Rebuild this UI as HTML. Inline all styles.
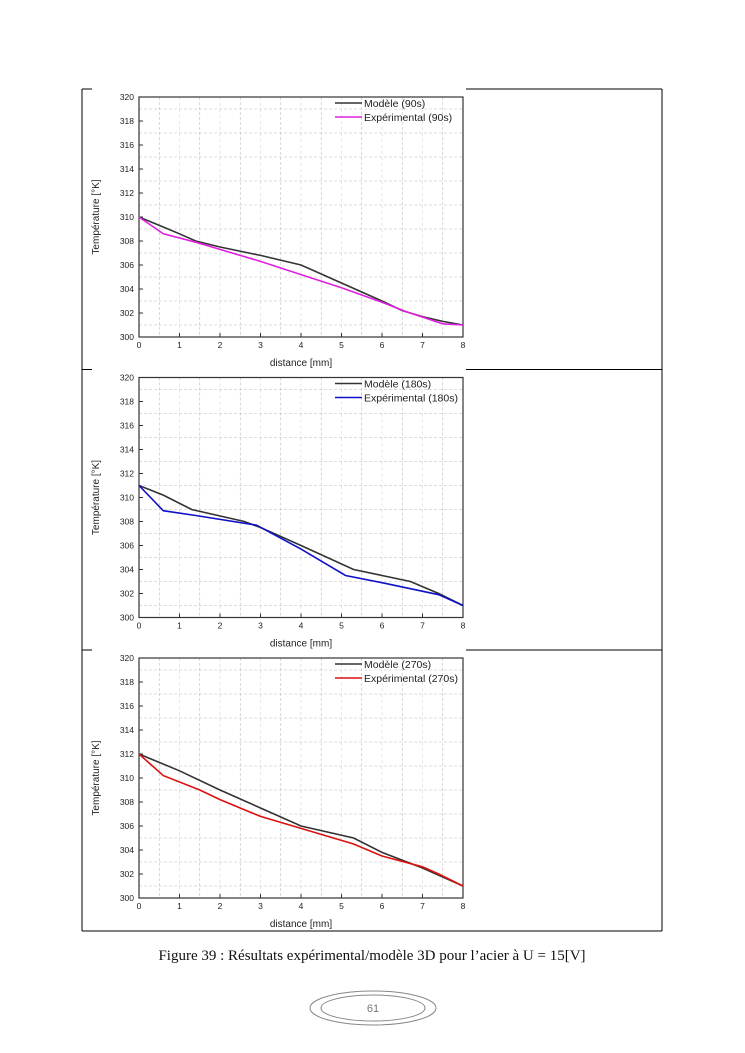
<!DOCTYPE html>
<html><head><meta charset="utf-8"><style>
body{margin:0;background:#fff;}
svg{display:block;font-family:"Liberation Sans",Arial,sans-serif;}
</style></head><body>
<svg id="s" width="745" height="1053" xmlns="http://www.w3.org/2000/svg">
<rect width="745" height="1053" fill="#fff"/>
<line x1="82" y1="89" x2="82" y2="931" stroke="#000" stroke-width="1"/>
<line x1="662" y1="89" x2="662" y2="931" stroke="#000" stroke-width="1"/>
<line x1="82" y1="931" x2="662" y2="931" stroke="#000" stroke-width="1"/>
<text x="372" y="960" font-family="Liberation Serif,serif" font-size="15" text-anchor="middle" fill="#111">Figure 39 : Résultats expérimental/modèle 3D pour l’acier à U = 15[V]</text>
<ellipse cx="373" cy="1008" rx="63" ry="17" fill="none" stroke="#888" stroke-width="1"/>
<ellipse cx="373" cy="1008" rx="52" ry="13" fill="none" stroke="#888" stroke-width="1"/>
<text x="373" y="1012" font-size="11" text-anchor="middle" fill="#777">61</text>
<g id="g"></g>
</svg>
<script>
var charts=[
 {off:0,col:"#e020e0",lab:"90s",
  m:[[0,310],[0.5,309.3],[1,308.6],[1.4,308],[2,307.5],[3,306.8],[4,306],[5,304.5],[6,303],[6.5,302.2],[7,301.7],[7.5,301.3],[8,301]],
  e:[[0,310],[0.6,308.6],[1.4,307.9],[2,307.3],[3,306.3],[4,305.2],[5,304.1],[6,302.9],[6.6,302.1],[7.5,301.1],[8,301]]},
 {off:280.5,col:"#1010c8",lab:"180s",
  m:[[0,311],[0.6,310.2],[1.3,309],[2.6,308],[3,307.5],[4,306],[5.3,304],[6,303.5],[6.7,303],[7.4,302],[8,301]],
  e:[[0,311],[0.6,308.9],[1.4,308.5],[2.9,307.7],[4,305.7],[5.1,303.5],[6,302.9],[7.4,301.9],[8,301]]},
 {off:561,col:"#dd1010",lab:"270s",
  m:[[0,312],[1,310.6],[2,309],[3,307.5],[4,306],[5.3,305],[6,303.8],[7,302.5],[8,301]],
  e:[[0,312],[0.6,310.2],[1.5,309],[2,308.2],[3,306.8],[4,305.8],[5.3,304.5],[6,303.5],[7,302.6],[7.4,302],[8,301]]}
];
var h="";
charts.forEach(function(c){
 var o=c.off,L=139,R=463,T=97+o,B=337+o;
 function X(v){return L+v*(R-L)/8} function Y(v){return B-(v-300)*12}
 h+='<line x1="82" y1="'+(89+o)+'" x2="92" y2="'+(89+o)+'" stroke="#000"/>';
 h+='<line x1="466" y1="'+(89+o)+'" x2="662" y2="'+(89+o)+'" stroke="#000"/>';
 for(var i=1;i<16;i+=2){var x=X(i/2);h+='<line x1="'+x+'" y1="'+T+'" x2="'+x+'" y2="'+B+'" stroke="#bbb" stroke-width="0.6" stroke-dasharray="3,2"/>';}
 for(var i=1;i<8;i++){var x=X(i);h+='<line x1="'+x+'" y1="'+T+'" x2="'+x+'" y2="'+B+'" stroke="#ccc" stroke-width="0.5" stroke-dasharray="3,3"/>';}
 for(var j=1;j<20;j+=2){var y=Y(300+j);h+='<line x1="'+L+'" y1="'+y+'" x2="'+R+'" y2="'+y+'" stroke="#bbb" stroke-width="0.6" stroke-dasharray="3,2"/>';}
 h+='<rect x="'+L+'" y="'+T+'" width="'+(R-L)+'" height="'+(B-T)+'" fill="none" stroke="#333" stroke-width="1.2"/>';
 for(var k=0;k<=10;k++){var v=300+2*k,y=Y(v);h+='<text x="134" y="'+(y+3)+'" font-size="8.5" text-anchor="end" fill="#222">'+v+'</text>';h+='<line x1="'+L+'" y1="'+y+'" x2="'+(L+4)+'" y2="'+y+'" stroke="#333"/>';}
 for(var k=0;k<=8;k++){var x=X(k);h+='<text x="'+x+'" y="'+(B+11)+'" font-size="8.5" text-anchor="middle" fill="#222">'+k+'</text>';h+='<line x1="'+x+'" y1="'+B+'" x2="'+x+'" y2="'+(B-4)+'" stroke="#333"/>';}
 h+='<text x="301" y="'+(B+29)+'" font-size="10" text-anchor="middle" fill="#222">distance [mm]</text>';
 var cy=(T+B)/2;
 h+='<text transform="translate(99,'+cy+') rotate(-90)" font-size="10" text-anchor="middle" fill="#222">Température [°K]</text>';
 function P(a){return a.map(function(p){return X(p[0]).toFixed(1)+','+Y(p[1]).toFixed(1)}).join(' ')}
 h+='<polyline points="'+P(c.m)+'" fill="none" stroke="#333" stroke-width="1.6"/>';
 h+='<polyline points="'+P(c.e)+'" fill="none" stroke="'+c.col+'" stroke-width="1.6"/>';
 h+='<line x1="335" y1="'+(T+6)+'" x2="362" y2="'+(T+6)+'" stroke="#333" stroke-width="1.6"/>';
 h+='<line x1="335" y1="'+(T+20)+'" x2="362" y2="'+(T+20)+'" stroke="'+c.col+'" stroke-width="1.6"/>';
 h+='<text x="364" y="'+(T+10)+'" font-size="10.5" fill="#222">Modèle ('+c.lab+')</text>';
 h+='<text x="364" y="'+(T+24)+'" font-size="10.5" fill="#222">Expérimental ('+c.lab+')</text>';
});
document.getElementById("g").innerHTML=h;
</script>
</body></html>
